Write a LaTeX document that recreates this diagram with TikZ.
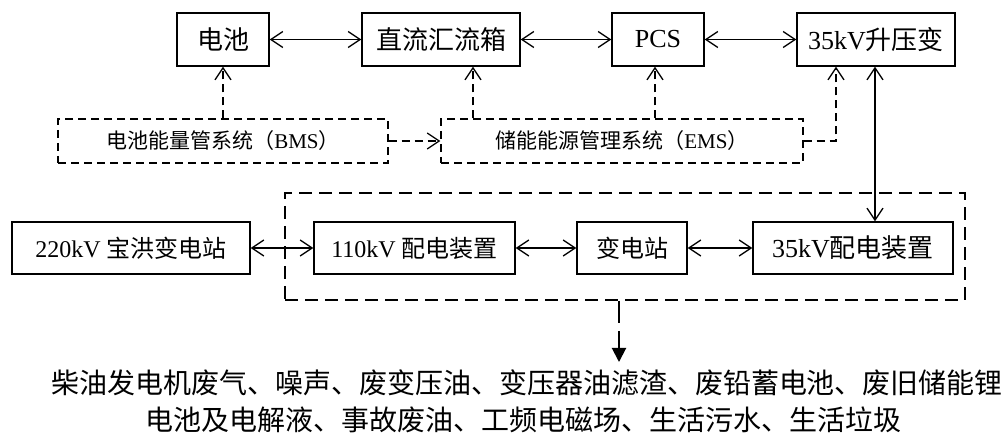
\documentclass[tikz,border=0pt]{standalone}
\usepackage{fontspec}
\setmainfont{Liberation Serif}
\newfontfamily\cjk{Noto Sans CJK SC}
\usetikzlibrary{arrows.meta}
\tikzset{
  box/.style={draw,line width=1.4pt,inner sep=0pt,minimum height=53pt,font=\fontsize{26}{30}\selectfont},
  boxsm/.style={box,font=\fontsize{24}{28}\selectfont},
  ctlbox/.style={draw,line width=1.3pt,dash pattern=on 8pt off 5pt,inner sep=0pt,minimum height=44pt,font=\fontsize{21}{25}\selectfont},
  grpbox/.style={draw,line width=2pt,dash pattern=on 13pt off 7pt,inner sep=0pt},
  dbl/.style={line width=1.3pt,{Straight Barb[length=12pt,width=16pt]}-{Straight Barb[length=12pt,width=16pt]}},
  ctl/.style={line width=1.3pt,dash pattern=on 8pt off 5pt,-{Straight Barb[length=12pt,width=16pt]}},
  outarr/.style={line width=2pt,dash pattern=on 22pt off 8pt,-{Triangle[length=14pt,width=14pt]}},
  note/.style={inner sep=0pt,font=\cjk\fontsize{28}{32}\selectfont}
}
\begin{document}
\begin{tikzpicture}[x=1pt,y=-1pt]
\useasboundingbox (0,0) rectangle (1004,435);
% top row
\node[box,minimum width=92pt] (bat) at (223,39.5) {\cjk 电池};
\node[box,minimum width=158pt] (dc) at (441,39.5) {\cjk 直流汇流箱};
\node[box,minimum width=92pt] (pcs) at (658,39.5) {PCS};
\node[box,minimum width=158pt] (up) at (876,39.5) {35kV{\cjk 升压变}};
% control row
\node[ctlbox,minimum width=330pt] (bms) at (223,141) {\cjk 电池能量管系统（{\rmfamily BMS}）};
\node[ctlbox,minimum width=362pt] (ems) at (622,141) {\cjk 储能能源管理系统（{\rmfamily EMS}）};
% group
\node[grpbox,minimum width=680pt,minimum height=107pt] (grp) at (625,246.5) {};
% second row
\node[boxsm,minimum width=238pt,minimum height=52pt] (s220) at (131,248) {220kV {\cjk 宝洪变电站}};
\node[boxsm,minimum width=201pt,minimum height=52pt] (s110) at (414.5,248) {110kV {\cjk 配电装置}};
\node[boxsm,minimum width=110pt,minimum height=52pt] (sub) at (632,248) {\cjk 变电站};
\node[box,minimum width=200pt,minimum height=52pt] (s35) at (853,248) {35kV{\cjk 配电装置}};
% helper coordinates
\coordinate (xdc) at (473,0);
\coordinate (xpcs) at (655,0);
\coordinate (xup) at (836,0);
\coordinate (xv) at (875,0);
\coordinate (xo) at (619,0);
\coordinate (tip) at (619,362);
% top row connectors
\draw[dbl] (bat) -- (dc);
\draw[dbl] (dc) -- (pcs);
\draw[dbl] (pcs) -- (up);
% control connectors
\draw[ctl] (bms.north) -- (bat.south);
\draw[ctl] (xdc |- ems.north) -- (xdc |- dc.south);
\draw[ctl] (xpcs |- ems.north) -- (xpcs |- pcs.south);
\draw[ctl] (ems.east) -| (xup |- up.south);
\draw[ctl] (bms.east) -- (ems.west);
% vertical link
\draw[dbl] (xv |- up.south) -- (xv |- s35.north);
% second row connectors
\draw[dbl] (s220) -- (s110);
\draw[dbl] (s110) -- (sub);
\draw[dbl] (sub) -- (s35);
% output
\draw[outarr] (xo |- grp.south) -- (tip);
\node[note] (n1) at (527,383) {柴油发电机废气、噪声、废变压油、变压器油滤渣、废铅蓄电池、废旧储能锂};
\node[note] (n2) at (523,420) {电池及电解液、事故废油、工频电磁场、生活污水、生活垃圾};
\end{tikzpicture}
\end{document}
